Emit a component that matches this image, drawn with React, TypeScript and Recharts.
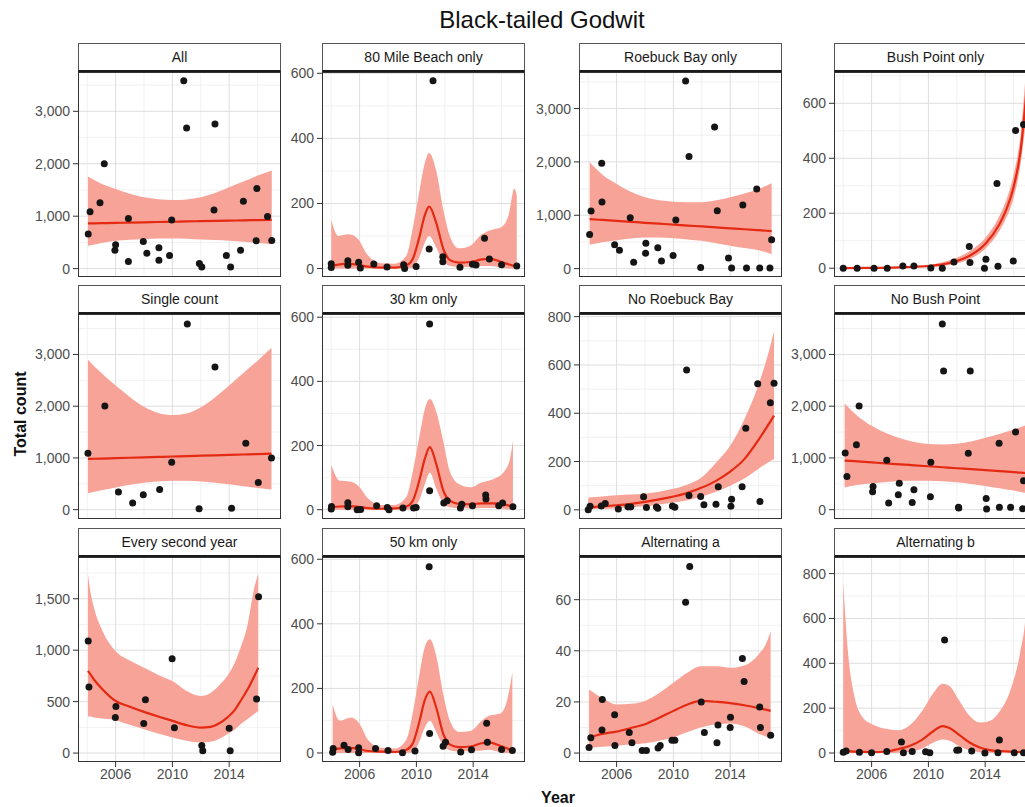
import React from 'react';
import { ComposedChart, Area, Line, Scatter, XAxis, YAxis, CartesianGrid } from 'recharts';

// counts per survey: [year, count]; fitted curve: [year, fit, lower, upper]
const allPts = [[2004.07, 658], [2004.2, 1085], [2004.9, 1258], [2005.2, 1998], [2006.0, 453], [2005.95, 351], [2006.9, 958], [2006.9, 134], [2007.95, 517], [2008.2, 294], [2009.05, 396], [2009.05, 160], [2009.8, 249], [2009.95, 926], [2010.8, 3582], [2011.0, 2682], [2011.9, 96], [2012.07, 32], [2012.93, 1117], [2013.0, 2758], [2013.8, 249], [2014.1, 32], [2014.8, 351], [2015.0, 1283], [2015.9, 530], [2015.95, 1526], [2016.7, 996], [2017.0, 536]];
const allFit = [[2004.05, 862, 434, 1756], [2005, 867, 490, 1620], [2006, 872, 530, 1520], [2007, 878, 550, 1430], [2008, 883, 562, 1360], [2009, 889, 572, 1325], [2010, 894, 575, 1309], [2011, 900, 570, 1320], [2012, 905, 555, 1360], [2013, 910, 545, 1440], [2014, 915, 530, 1551], [2015, 921, 512, 1660], [2016, 926, 492, 1775], [2017, 932, 466, 1871]];

const mile80Pts = [[2004.0, 15], [2004.0, 3], [2005.17, 24], [2005.17, 10], [2005.93, 19], [2006.05, 2], [2007.0, 14], [2007.93, 5], [2009.1, 12], [2009.17, 0], [2009.98, 6], [2010.9, 60], [2011.17, 577], [2011.86, 36], [2011.86, 21], [2013.07, 4], [2013.95, 13], [2014.2, 11], [2014.8, 93], [2015.14, 29], [2016.0, 12], [2017.07, 8]];
const mile80Fit = [[2004, 8, 0, 150], [2004.5, 12, 0, 100], [2005.2, 15, 0, 105], [2005.8, 12, 0, 95], [2006.6, 6, 0, 40], [2007.5, 3, 0, 16], [2008.5, 3, 0, 15], [2009.3, 10, 0, 40], [2009.75, 30, 3, 125], [2010.2, 95, 35, 235], [2010.6, 165, 80, 325], [2010.9, 190, 100, 355], [2011.4, 140, 65, 300], [2011.9, 60, 22, 180], [2012.4, 25, 8, 95], [2013, 18, 5, 62], [2013.8, 20, 5, 70], [2014.6, 28, 8, 105], [2015.2, 30, 8, 118], [2016, 20, 3, 128], [2016.5, 13, 0, 165], [2016.9, 8, 0, 245], [2017.07, 7, 0, 225]];

const roebuckPts = [[2004.1, 640], [2004.2, 1080], [2004.95, 1977], [2004.97, 1249], [2005.86, 446], [2006.2, 345], [2006.96, 954], [2007.2, 119], [2008.06, 477], [2008.04, 289], [2008.9, 389], [2009.16, 144], [2009.98, 245], [2010.17, 910], [2010.86, 3515], [2011.1, 2103], [2011.92, 19], [2012.9, 2655], [2013.09, 1086], [2013.88, 201], [2014.1, 13], [2014.89, 1193], [2015.15, 13], [2015.87, 1494], [2016.08, 13], [2016.8, 13], [2016.92, 540]];
const roebuckFit = [[2004.1, 929, 446, 1996], [2005, 912, 495, 1760], [2006, 894, 534, 1588], [2007, 877, 565, 1440], [2008, 859, 584, 1337], [2009, 842, 582, 1280], [2010, 825, 571, 1255], [2011, 807, 548, 1245], [2012, 790, 521, 1243], [2013, 772, 475, 1280], [2014, 755, 427, 1337], [2015, 738, 385, 1410], [2016, 720, 345, 1494], [2016.92, 703, 270, 1600]];

const bushPts = [[2004.0, 0], [2004.98, 0], [2006.17, 0], [2007.1, 0], [2008.2, 8], [2008.98, 8], [2010.17, 1], [2010.98, 0], [2011.8, 23], [2012.88, 79], [2012.93, 21], [2013.95, 0], [2014.05, 33], [2014.9, 7], [2014.83, 308], [2015.98, 26], [2016.14, 501], [2016.7, 523]];
const bushFit = [[2004, 0.5, 0, 2], [2006, 1, 0, 3], [2008, 3, 1, 6], [2009, 5, 2, 9], [2010, 8, 4, 13], [2011, 14, 8, 22], [2012, 26, 17, 38], [2013, 48, 35, 65], [2014, 88, 70, 110], [2015, 160, 135, 190], [2015.5, 215, 185, 250], [2016, 295, 255, 340], [2016.5, 430, 380, 490], [2017, 700, 600, 820]];

const singlePts = [[2004.05, 1090], [2005.24, 2006], [2006.2, 340], [2007.2, 128], [2007.95, 288], [2009.1, 391], [2009.95, 917], [2011.05, 3590], [2011.88, 19], [2013.0, 2756], [2014.17, 26], [2015.17, 1282], [2016.05, 526], [2016.98, 1000]];
const singleFit = [[2004.05, 981, 320, 2900], [2005, 988, 375, 2640], [2006, 996, 430, 2400], [2007, 1004, 480, 2180], [2008, 1012, 520, 1990], [2009, 1020, 545, 1870], [2010, 1028, 560, 1830], [2011, 1035, 558, 1860], [2012, 1043, 545, 1980], [2013, 1051, 520, 2170], [2014, 1059, 490, 2400], [2015, 1067, 455, 2640], [2016, 1075, 420, 2880], [2016.98, 1083, 390, 3130]];

const km30Pts = [[2004.02, 10], [2004.0, 2], [2005.17, 22], [2005.17, 9], [2005.83, 0], [2006.07, 1], [2007.2, 12], [2007.95, 7], [2008.07, 0], [2009.05, 5], [2009.8, 5], [2009.98, 7], [2010.93, 579], [2010.93, 59], [2011.93, 21], [2012.17, 28], [2013.1, 5], [2013.2, 17], [2013.95, 12], [2014.88, 46], [2014.9, 33], [2015.8, 12], [2016.07, 21], [2016.8, 9]];
const km30Fit = [[2004, 8, 0, 140], [2004.6, 10, 0, 90], [2005.3, 11, 0, 88], [2005.9, 9, 0, 75], [2006.6, 5, 0, 35], [2007.5, 3, 0, 15], [2008.5, 4, 0, 15], [2009.3, 10, 0, 40], [2009.75, 28, 2, 120], [2010.2, 90, 30, 225], [2010.6, 160, 80, 315], [2010.95, 195, 115, 345], [2011.4, 142, 65, 305], [2011.9, 59, 20, 212], [2012.35, 28, 8, 120], [2013, 18, 5, 80], [2013.8, 17, 4, 70], [2014.6, 20, 5, 85], [2015.4, 20, 5, 95], [2016.2, 16, 2, 120], [2016.6, 12, 0, 160], [2016.8, 10, 0, 215]];

const noRoebuckPts = [[2004.0, 0], [2004.13, 15], [2004.92, 16], [2005.2, 26], [2006.12, 3], [2006.8, 12], [2007.0, 12], [2007.9, 54], [2008.1, 10], [2008.8, 12], [2008.9, 7], [2009.93, 16], [2010.1, 11], [2010.93, 579], [2011.1, 59], [2011.92, 55], [2012.15, 21], [2013.0, 23], [2013.16, 96], [2014.05, 15], [2014.1, 44], [2014.84, 96], [2015.1, 338], [2015.94, 522], [2016.1, 34], [2016.83, 443], [2017.09, 524]];
const noRoebuckFit = [[2004, 10, 2, 51], [2005, 14, 4, 55], [2006, 19, 7, 60], [2007, 25, 11, 63], [2008, 33, 15, 68], [2009, 43, 22, 75], [2010, 55, 30, 87], [2011, 70, 40, 105], [2012, 92, 55, 135], [2013, 120, 75, 195], [2014, 158, 100, 265], [2015, 210, 130, 375], [2016, 290, 170, 518], [2016.5, 335, 190, 610], [2017.09, 390, 210, 740]];

const noBushPts = [[2004.14, 1096], [2004.26, 641], [2004.93, 1256], [2005.12, 2006], [2006.1, 449], [2006.07, 346], [2007.07, 955], [2007.2, 128], [2007.95, 513], [2007.88, 288], [2008.98, 385], [2008.86, 141], [2010.14, 250], [2010.17, 917], [2010.98, 3590], [2011.07, 2679], [2012.12, 45], [2012.14, 32], [2012.95, 2679], [2012.81, 1090], [2014.07, 218], [2014.1, 13], [2014.98, 1282], [2015.0, 45], [2015.79, 45], [2016.14, 1500], [2016.64, 19], [2016.7, 558]];
const noBushFit = [[2004.1, 950, 430, 2050], [2005, 933, 475, 1810], [2006, 914, 510, 1620], [2007, 895, 537, 1480], [2008, 877, 555, 1380], [2009, 858, 560, 1310], [2010, 839, 560, 1270], [2011, 820, 550, 1262], [2012, 801, 530, 1275], [2013, 783, 497, 1320], [2014, 764, 460, 1390], [2015, 745, 415, 1465], [2016, 726, 370, 1550], [2016.7, 711, 333, 1615], [2017.2, 700, 310, 1680]];

const secondPts = [[2004.07, 1090], [2004.12, 642], [2006.02, 452], [2005.98, 345], [2007.98, 287], [2008.1, 519], [2009.98, 916], [2010.14, 245], [2012.07, 74], [2012.14, 23], [2014.0, 242], [2014.07, 23], [2015.93, 526], [2016.07, 1519]];
const secondFit = [[2004.05, 800, 355, 1740], [2004.2, 770, 355, 1590], [2004.5, 710, 345, 1400], [2005, 630, 335, 1210], [2006, 506, 320, 990], [2007, 450, 275, 900], [2008, 400, 232, 829], [2009, 355, 190, 760], [2010, 313, 152, 700], [2011, 271, 120, 603], [2012, 248, 103, 555], [2012.7, 255, 110, 587], [2013.3, 290, 140, 660], [2013.86, 345, 184, 748], [2014.4, 420, 230, 880], [2014.8, 506, 281, 1023], [2015.3, 620, 330, 1249], [2015.76, 745, 380, 1603], [2016.05, 829, 410, 1740]];

const km50Pts = [[2004.14, 14], [2004.1, 2], [2004.9, 24], [2005.19, 11], [2005.93, 16], [2005.93, 1], [2007.12, 14], [2008.0, 8], [2009.02, 1], [2009.9, 6], [2010.9, 577], [2010.93, 60], [2011.88, 21], [2012.05, 33], [2013.12, 3], [2013.88, 10], [2014.95, 92], [2015.0, 33], [2016.0, 11], [2016.76, 8]];
const km50Fit = [[2004.1, 10, 0, 150], [2004.6, 14, 0, 100], [2005.4, 16, 0, 110], [2006, 12, 0, 90], [2006.6, 6, 0, 40], [2007.5, 4, 0, 16], [2008.5, 3, 0, 14], [2009.3, 10, 0, 42], [2009.75, 30, 3, 125], [2010.2, 95, 35, 240], [2010.6, 165, 80, 330], [2010.95, 190, 100, 352], [2011.4, 140, 65, 300], [2011.9, 58, 22, 180], [2012.4, 25, 8, 95], [2013, 18, 5, 65], [2013.8, 20, 5, 68], [2014.6, 30, 8, 100], [2015.1, 33, 10, 115], [2015.9, 22, 3, 122], [2016.4, 14, 0, 165], [2016.76, 8, 0, 250]];

const altAPts = [[2004.06, 2.2], [2004.18, 6], [2004.99, 21], [2004.97, 9], [2005.86, 15], [2005.88, 3], [2006.89, 8], [2007.08, 4], [2007.8, 1], [2008.1, 1], [2008.92, 2], [2009.07, 3], [2009.9, 5], [2010.1, 5], [2010.86, 59], [2011.15, 73], [2011.96, 20], [2012.18, 8], [2013.07, 4], [2013.14, 11], [2014.0, 10], [2014.02, 14], [2014.86, 37], [2014.98, 28], [2016.13, 10], [2016.08, 18], [2016.85, 7]];
const altAFit = [[2004.06, 6.1, 2, 24.9], [2005, 7.5, 2.5, 21.5], [2006, 8.4, 2.9, 19], [2007, 9.8, 3.3, 19.3], [2008, 11.3, 3.8, 20.4], [2009, 13.8, 4.8, 23.5], [2010, 16.5, 6.1, 27.5], [2011, 19, 8.2, 31.5], [2011.9, 20.4, 10, 34], [2013.1, 20, 11.3, 34], [2014, 19.5, 11.6, 33.4], [2015, 18.7, 10.5, 34.3], [2016, 17.6, 7.6, 38.6], [2016.5, 17, 6.5, 42.5], [2016.85, 16.5, 5.5, 47.7]];

const altBPts = [[2004.0, 3], [2004.2, 9], [2005.14, 3], [2006.0, 1.5], [2007.07, 7], [2008.1, 49], [2008.24, 1.5], [2008.86, 7], [2009.8, 6], [2010.1, 1.5], [2011.14, 504], [2012.0, 12], [2012.14, 13], [2013.05, 9], [2013.98, 0], [2014.9, 1.5], [2015.0, 58], [2016.05, 1.5], [2016.7, 1.5]];
const altBFit = [[2004.0, 9, 0, 760], [2004.33, 8, 0, 454], [2004.81, 6, 0, 247], [2005.29, 5, 0, 166], [2006, 4, 0, 129], [2007.19, 8, 0, 106], [2007.9, 18, 1, 102], [2008.62, 30, 5, 121], [2009.57, 60, 20, 188], [2010.29, 95, 45, 262], [2011, 120, 60, 309], [2011.48, 112, 55, 299], [2012.19, 80, 30, 232], [2012.9, 47, 12, 166], [2013.62, 25, 4, 136], [2014.33, 13, 1, 143], [2015.05, 9, 0, 188], [2015.76, 6, 0, 277], [2016.48, 4, 0, 454], [2016.83, 4, 0, 602], [2017.1, 3, 0, 900]];

const yearTicks = [2006, 2010, 2014];
const yearMinor = [2004, 2008, 2012, 2016];
const thousandTicks = [0, 1000, 2000, 3000];
const thousandMinor = [500, 1500, 2500, 3500];
const hundredTicks = [0, 200, 400, 600];
const hundredMinor = [100, 300, 500, 700];
const eightTicks = [0, 200, 400, 600, 800];
const eightMinor = [100, 300, 500, 700];
const secondTicks = [0, 500, 1000, 1500];
const secondMinor = [250, 750, 1250, 1750];
const altATicks = [0, 20, 40, 60];
const altAMinor = [10, 30, 50, 70];

const FONT = '"Liberation Sans", Arial, Helvetica, sans-serif';
const PLOT_W = 203;
const PLOT_H = 205;
const AXIS_W = 60;
const PAD_TOP = 10;
const STRIP_H = 29;
const COL_LEFT = [78, 322, 579, 834];
const ROW_TOP = [72, 314, 557];
const X_DOMAIN = [2003.35, 2017.65];

const fmt = (v: number) => v.toLocaleString('en-US');

const dot = (p: any) => <circle cx={p.cx} cy={p.cy} r={3.5} fill="#151515" />;

interface PanelProps {
  title: string;
  col: number;
  row: number;
  pts: number[][];
  fit: number[][];
  domain: number[];
  ticks: number[];
  minor: number[];
}

const Panel: React.FC<PanelProps> = ({ title, col, row, pts, fit, domain, ticks, minor }) => {
  const left = COL_LEFT[col];
  const top = ROW_TOP[row];
  const showX = row === 2;
  const ptData = pts.map(([x, y]) => ({ x, y }));
  const fitData = fit.map(([x, f, lo, hi]) => ({ x, fit: f, band: [lo, hi] }));
  return (
    <>
      <div style={{ position: 'absolute', left: left - AXIS_W, top: top - PAD_TOP }}>
        <ComposedChart width={AXIS_W + PLOT_W} height={PAD_TOP + PLOT_H + (showX ? 26 : 0)} margin={{ top: PAD_TOP, right: 0, bottom: 0, left: 0 }}>
          <CartesianGrid stroke="#eeeeee" strokeWidth={0.8} horizontalValues={minor} verticalValues={yearMinor} />
          <CartesianGrid stroke="#dedede" strokeWidth={1} horizontalValues={ticks} verticalValues={yearTicks} />
          <XAxis type="number" dataKey="x" domain={X_DOMAIN} ticks={yearTicks} allowDataOverflow hide={!showX}
            height={26} axisLine={false} tickSize={5} tickMargin={2} interval={0}
            tickLine={{ stroke: '#333' }} tick={{ fontSize: 14, fill: '#4d4d4d', fontFamily: FONT }} />
          <YAxis type="number" domain={domain} ticks={ticks} allowDataOverflow width={AXIS_W} interval={0}
            axisLine={false} tickSize={5} tickMargin={3} tickFormatter={fmt}
            tickLine={{ stroke: '#333' }} tick={{ fontSize: 14, fill: '#4d4d4d', fontFamily: FONT }} />
          <Area data={fitData} dataKey="band" type="monotone" fill="#f8a398" fillOpacity={1} stroke="none" isAnimationActive={false} />
          <Line data={fitData} dataKey="fit" type="monotone" stroke="#e42a12" strokeWidth={2.2} dot={false} isAnimationActive={false} />
          <Scatter data={ptData} dataKey="y" shape={dot} isAnimationActive={false} />
        </ComposedChart>
      </div>
      <div style={{
        position: 'absolute', left, top: top - STRIP_H, width: PLOT_W, height: STRIP_H,
        boxSizing: 'border-box', border: '1px solid #555', borderBottom: '2px solid #1a1a1a',
        background: '#fff', fontSize: 14, color: '#1a1a1a', textAlign: 'center', lineHeight: '27px',
      }}>{title}</div>
      <div style={{
        position: 'absolute', left, top, width: PLOT_W, height: PLOT_H,
        boxSizing: 'border-box', border: '1px solid #333', pointerEvents: 'none',
      }} />
    </>
  );
};

export default function App() {
  return (
    <div style={{ position: 'absolute', left: 0, top: 0, width: 1025, height: 807, overflow: 'hidden', background: '#fff', fontFamily: FONT }}>
      <div style={{ position: 'absolute', left: 342, top: 6, width: 400, textAlign: 'center', fontSize: 24, color: '#111' }}>
        Black-tailed Godwit
      </div>
      <div style={{
        position: 'absolute', left: 21, top: 414, transform: 'translate(-50%, -50%) rotate(-90deg)',
        fontSize: 16, fontWeight: 'bold', color: '#111', whiteSpace: 'nowrap',
      }}>Total count</div>
      <div style={{
        position: 'absolute', left: 558, top: 798, transform: 'translate(-50%, -50%)',
        fontSize: 16, fontWeight: 'bold', color: '#111',
      }}>Year</div>

      <Panel title="All" col={0} row={0} pts={allPts} fit={allFit} domain={[-160, 3750]} ticks={thousandTicks} minor={thousandMinor} />
      <Panel title="80 Mile Beach only" col={1} row={0} pts={mile80Pts} fit={mile80Fit} domain={[-26, 604]} ticks={hundredTicks} minor={hundredMinor} />
      <Panel title="Roebuck Bay only" col={2} row={0} pts={roebuckPts} fit={roebuckFit} domain={[-157, 3685]} ticks={thousandTicks} minor={thousandMinor} />
      <Panel title="Bush Point only" col={3} row={0} pts={bushPts} fit={bushFit} domain={[-32, 714]} ticks={hundredTicks} minor={hundredMinor} />

      <Panel title="Single count" col={0} row={1} pts={singlePts} fit={singleFit} domain={[-180, 3782]} ticks={thousandTicks} minor={thousandMinor} />
      <Panel title="30 km only" col={1} row={1} pts={km30Pts} fit={km30Fit} domain={[-29, 610]} ticks={hundredTicks} minor={hundredMinor} />
      <Panel title="No Roebuck Bay" col={2} row={1} pts={noRoebuckPts} fit={noRoebuckFit} domain={[-38, 811]} ticks={eightTicks} minor={eightMinor} />
      <Panel title="No Bush Point" col={3} row={1} pts={noBushPts} fit={noBushFit} domain={[-180, 3782]} ticks={thousandTicks} minor={thousandMinor} />

      <Panel title="Every second year" col={0} row={2} pts={secondPts} fit={secondFit} domain={[-87, 1906]} ticks={secondTicks} minor={secondMinor} />
      <Panel title="50 km only" col={1} row={2} pts={km50Pts} fit={km50Fit} domain={[-28, 607]} ticks={hundredTicks} minor={hundredMinor} />
      <Panel title="Alternating a" col={2} row={2} pts={altAPts} fit={altAFit} domain={[-3.5, 76.7]} ticks={altATicks} minor={altAMinor} />
      <Panel title="Alternating b" col={3} row={2} pts={altBPts} fit={altBFit} domain={[-40, 874]} ticks={eightTicks} minor={eightMinor} />
    </div>
  );
}
